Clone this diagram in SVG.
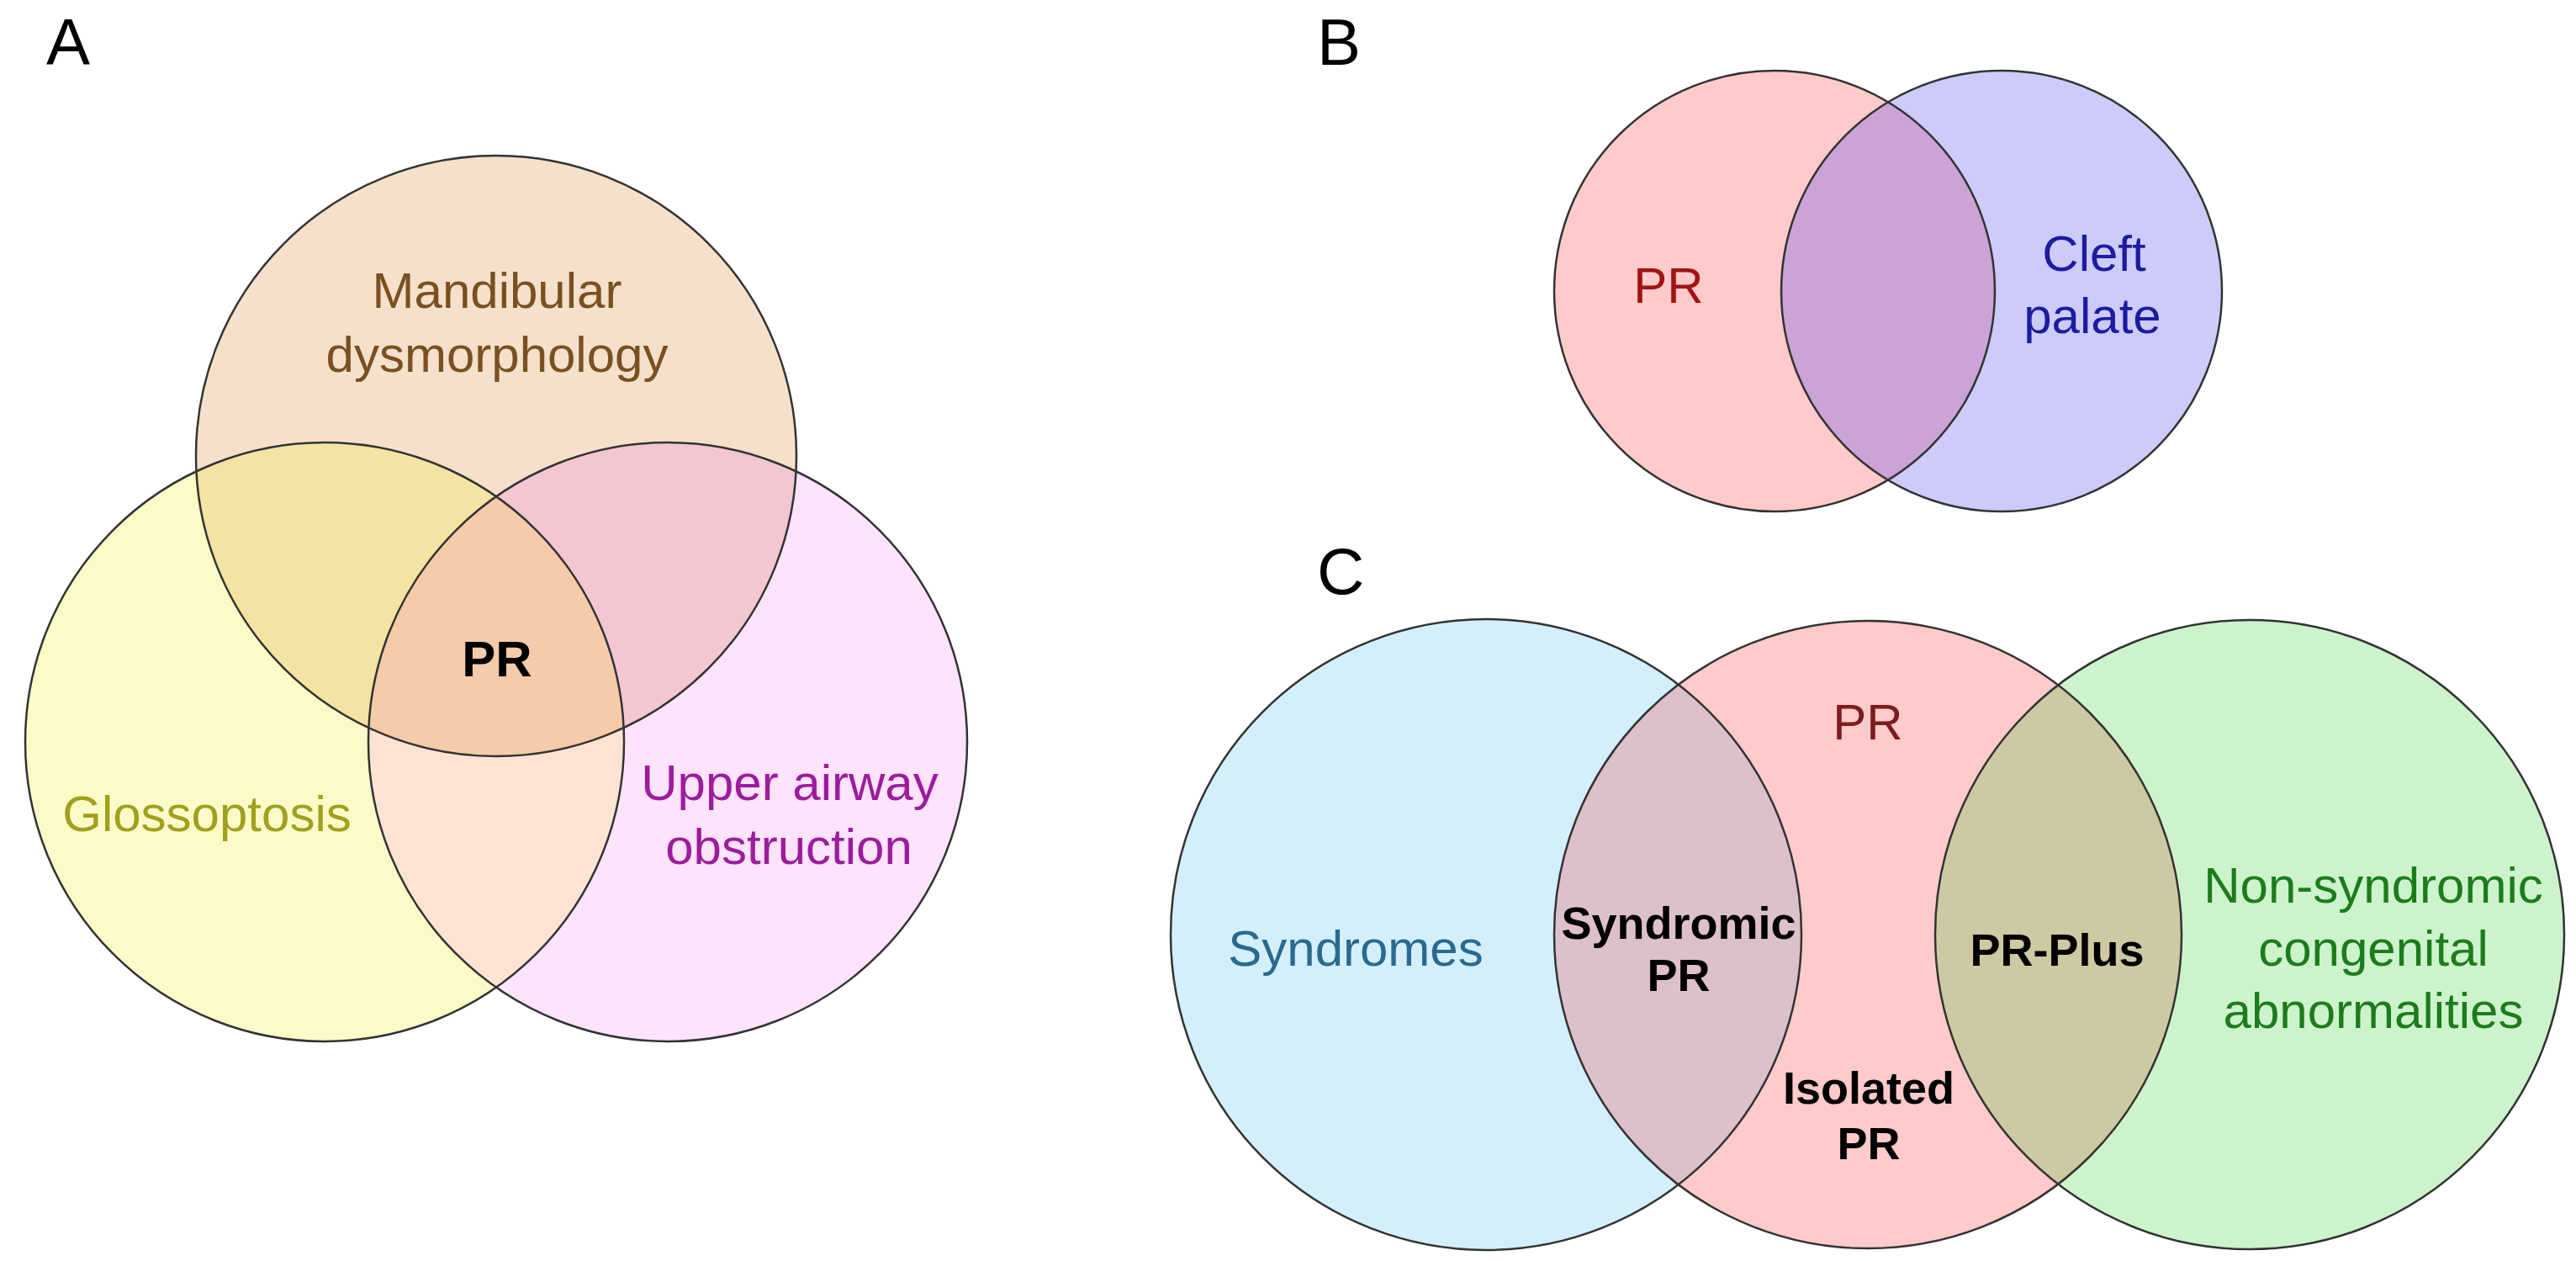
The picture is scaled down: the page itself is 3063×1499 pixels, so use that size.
<svg xmlns="http://www.w3.org/2000/svg" width="3063" height="1499" viewBox="0 0 3063 1499">
<style>
text{font-family:"Liberation Sans",Arial,sans-serif;text-anchor:middle;font-size:60px}
.lbl{font-size:78px;text-anchor:start;fill:#000}
.b{font-weight:bold;fill:#000}
.cb{font-weight:bold;fill:#000;font-size:54px}
.edge{fill:none;stroke:#333;stroke-width:2.5}
</style>
<defs>
<clipPath id="cAT"><circle cx="590" cy="542" r="357"/></clipPath>
<clipPath id="cAL"><circle cx="386" cy="882" r="356"/></clipPath>
<clipPath id="cAR"><circle cx="794" cy="882" r="356"/></clipPath>
<clipPath id="cBP"><circle cx="2110" cy="346" r="262"/></clipPath>
<clipPath id="cCS"><circle cx="1767" cy="1111" r="375"/></clipPath>
<clipPath id="cCG"><circle cx="2675" cy="1111" r="374"/></clipPath>
</defs>
<rect width="3063" height="1499" fill="#fff"/>

<g id="panelA">
<text class="lbl" x="55" y="77">A</text>
<g id="a-mandibular"><circle cx="590" cy="542" r="357" fill="#f5e0cb"/></g>
<g id="a-glossoptosis"><circle cx="386" cy="882" r="356" fill="#fcfbc8"/></g>
<g id="a-airway"><circle cx="794" cy="882" r="356" fill="#fde3fc"/></g>
<g id="a-overlaps">
<circle cx="386" cy="882" r="356" fill="#f3e4a3" clip-path="url(#cAT)"/>
<circle cx="794" cy="882" r="356" fill="#f2c7d1" clip-path="url(#cAT)"/>
<circle cx="794" cy="882" r="356" fill="#fde3d4" clip-path="url(#cAL)"/>
<g clip-path="url(#cAT)"><circle cx="794" cy="882" r="356" fill="#f5cba9" clip-path="url(#cAL)"/></g>
</g>
<circle class="edge" cx="590" cy="542" r="357"/>
<circle class="edge" cx="386" cy="882" r="356"/>
<circle class="edge" cx="794" cy="882" r="356"/>
<text x="591" y="366" fill="#7a5020">Mandibular</text>
<text x="591" y="442" fill="#7a5020">dysmorphology</text>
<text class="b" x="591" y="804">PR</text>
<text x="246" y="988" fill="#a0a01e">Glossoptosis</text>
<text x="939" y="951" fill="#9c1c9c">Upper airway</text>
<text x="938" y="1027" fill="#9c1c9c">obstruction</text>
</g>

<g id="panelB">
<text class="lbl" x="1566" y="77">B</text>
<g id="b-pr"><circle cx="2110" cy="346" r="262" fill="#fecaca"/></g>
<g id="b-cleft"><circle cx="2380" cy="346" r="262" fill="#cdcbfa"/></g>
<circle cx="2380" cy="346" r="262" fill="#cba3d6" clip-path="url(#cBP)"/>
<circle class="edge" cx="2110" cy="346" r="262"/>
<circle class="edge" cx="2380" cy="346" r="262"/>
<text x="1984" y="360" fill="#a01414">PR</text>
<text x="2490" y="322" fill="#1c1ca0">Cleft</text>
<text x="2488" y="396" fill="#1c1ca0">palate</text>
</g>

<g id="panelC">
<text class="lbl" x="1566" y="706">C</text>
<g id="c-syndromes"><circle cx="1767" cy="1111" r="375" fill="#d4effc"/></g>
<g id="c-pr"><circle cx="2221" cy="1111" r="373" fill="#fecaca"/></g>
<g id="c-nonsyndromic"><circle cx="2675" cy="1111" r="374" fill="#cdf3cd"/></g>
<circle cx="2221" cy="1111" r="373" fill="#dcc0cb" clip-path="url(#cCS)"/>
<circle cx="2221" cy="1111" r="373" fill="#cdc9a3" clip-path="url(#cCG)"/>
<circle class="edge" cx="1767" cy="1111" r="375"/>
<circle class="edge" cx="2221" cy="1111" r="373"/>
<circle class="edge" cx="2675" cy="1111" r="374"/>
<text x="2221" y="879" fill="#7c1c1c">PR</text>
<text x="1612" y="1148" fill="#2a6a90">Syndromes</text>
<text class="cb" x="1996" y="1116">Syndromic</text>
<text class="cb" x="1996" y="1178">PR</text>
<text class="cb" x="2446" y="1148">PR-Plus</text>
<text class="cb" x="2222" y="1312">Isolated</text>
<text class="cb" x="2222" y="1378">PR</text>
<text x="2822" y="1073" fill="#1c7c1c">Non-syndromic</text>
<text x="2822" y="1148" fill="#1c7c1c">congenital</text>
<text x="2822" y="1222" fill="#1c7c1c">abnormalities</text>
</g>
</svg>
